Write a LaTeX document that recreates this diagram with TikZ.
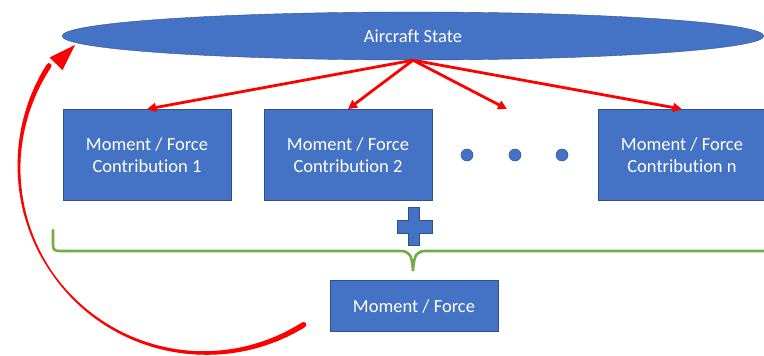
\documentclass[tikz,border=0pt]{standalone}
\usepackage{fontspec}
\setmainfont{Carlito}[Ligatures={NoCommon}]
\usetikzlibrary{shapes.geometric,arrows.meta}
\definecolor{boxblue}{HTML}{4472C4}
\definecolor{boxedge}{HTML}{2F528F}
\definecolor{arrred}{HTML}{FF0000}
\definecolor{bracegreen}{HTML}{70AD47}
\begin{document}
\begin{tikzpicture}[x=1pt,y=-1pt,
  bluebox/.style={rectangle,draw=boxedge,fill=boxblue,line width=0.8pt,text=white,
    minimum width=168pt,minimum height=91pt,inner sep=0pt,align=center,
    font=\fontsize{18.5}{22}\selectfont},
  redarrow/.style={draw=arrred,line width=2.8pt,-{Triangle[length=9pt,width=9pt]}},
  dot/.style={circle,fill=boxblue,draw=boxedge,line width=0.5pt,minimum size=12pt,inner sep=0pt}]
\useasboundingbox (0,0) rectangle (764,356);
\node[ellipse,fill=boxblue,draw=boxedge,line width=0.4pt,minimum width=702pt,minimum height=48pt,inner sep=0pt,
  text=white,font=\fontsize{18.5}{22}\selectfont] (st) at (413,36) {Aircraft State};
\node[bluebox] (c1) at (147,155) {Moment / Force\\Contribution 1};
\node[bluebox] (c2) at (348,155) {Moment / Force\\Contribution 2};
\node[bluebox] (cn) at (682,155) {Moment / Force\\Contribution n};
\node[dot] (d1) at (467,155) {};
\node[dot] (d2) at (515,155) {};
\node[dot] (d3) at (562,155) {};
\coordinate (d3top) at (507,109);
\node[bluebox,minimum width=168pt,minimum height=51pt] (mf) at (414,306) {Moment / Force};
% arrows from state
\draw[redarrow] (st.south) -- (c1.north);
\draw[redarrow] (st.south) -- (c2.north);
\draw[redarrow] (st.south) -- (d3top);
\draw[redarrow] (st.south) -- (cn.north);
% plus sign
\draw[fill=boxblue,draw=boxedge,line width=0.6pt]
  (408,207) -- (419,207) -- (419,220) -- (432,220) -- (432,233) -- (419,233) -- (419,245)
  -- (408,245) -- (408,233) -- (397,233) -- (397,220) -- (408,220) -- cycle;
% brace
\draw[bracegreen,line width=2.6pt,line cap=round]
  (53,230) -- (53,245) .. controls (53,250) and (55,251) .. (60,251) -- (400,251)
  .. controls (409,251) and (412,254) .. (413,271)
  .. controls (414,254) and (417,251) .. (426,251) -- (766,251);
% feedback arc (tapered)
\coordinate (fbc) at (205,167);
\foreach \a in {58,...,212}{
  \pgfmathsetmacro\b{\a+1}
  \pgfmathsetmacro\w{(\a<90) ? 5.5-2*(\a-58)/32 : ((\a<145) ? 3.5-2*(\a-90)/55 : ((\a<180) ? 1.5+1.3*(\a-145)/35 : 2.8+2.4*(\a-180)/33))}
  \draw[arrred,line width=\w pt,line cap=round] ([shift={(fbc)}]\a:186) -- ([shift={(fbc)}]\b:186);
}
\coordinate (fbtip) at (75,45);
\fill[arrred] (fbtip) -- (62.5,70) -- (49.5,57.5) -- cycle;
\end{tikzpicture}
\end{document}
